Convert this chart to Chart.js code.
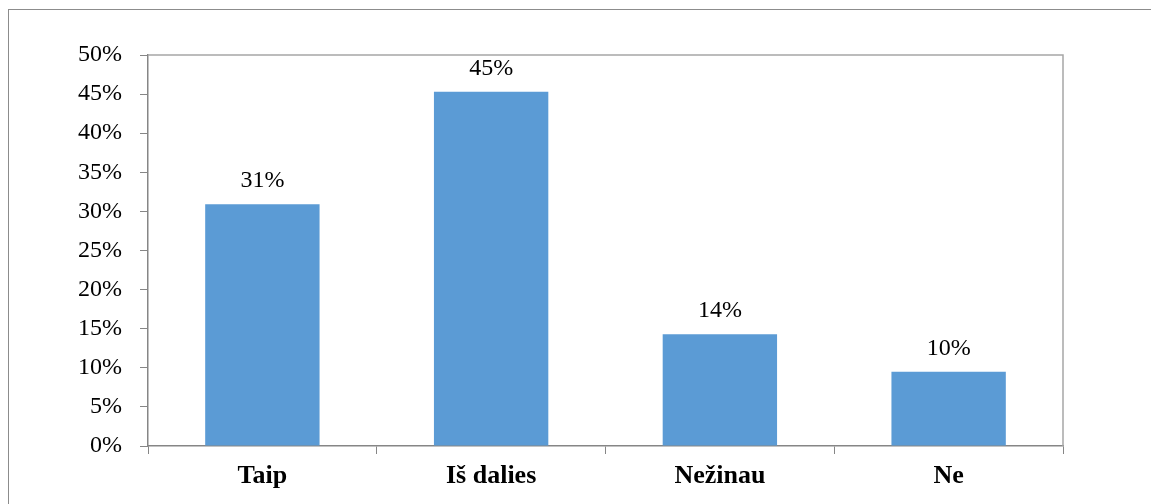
<!DOCTYPE html>
<html>
<head>
<meta charset="utf-8">
<script src="https://cdn.jsdelivr.net/npm/chart.js@4/dist/chart.umd.min.js"></script>
<style>
    html, body { margin: 0; padding: 0; background: #fff; }
    #wrap { position: relative; width: 1151px; height: 504px; overflow: hidden; }
    #frame { position: absolute; left: 8px; top: 9px; width: 1200px; height: 600px; border: 1px solid #8c8c8c; }
    canvas { position: absolute; left: 0; top: 0; }
</style>
</head>
<body>
<div id="wrap">
    <div id="frame"></div>
    <canvas id="barChart" width="1151" height="504"></canvas>
</div>
<script>
const categories = ["Taip", "Iš dalies", "Nežinau", "Ne"];
const values = [30.9, 45.3, 14.3, 9.5];
const valueLabels = ["31%", "45%", "14%", "10%"];
const yTicks = [0, 5, 10, 15, 20, 25, 30, 35, 40, 45, 50];

const fontFamily = "'Liberation Serif', 'Times New Roman', serif";

// top/right border of the plot area plus the value labels
const extras = {
    id: "extras",
    afterDraw(chart) {
        const ctx = chart.ctx;
        const a = chart.chartArea;
        ctx.save();
        ctx.strokeStyle = "#a6a6a6";
        ctx.lineWidth = 1.5;
        ctx.beginPath();
        ctx.moveTo(a.left, a.top);
        ctx.lineTo(a.right, a.top);
        ctx.lineTo(a.right, a.bottom);
        ctx.stroke();

        ctx.fillStyle = "#000";
        ctx.font = "24px " + fontFamily;
        ctx.textAlign = "center";
        ctx.textBaseline = "alphabetic";
        chart.getDatasetMeta(0).data.forEach((bar, i) => {
            ctx.fillText(valueLabels[i], bar.x, bar.y - 17);
        });
        ctx.restore();
    }
};

new Chart(document.getElementById("barChart"), {
    type: "bar",
    data: {
        labels: categories,
        datasets: [{
            data: values,
            backgroundColor: "#5b9bd5",
            categoryPercentage: 1,
            barPercentage: 0.5
        }]
    },
    options: {
        responsive: false,
        animation: false,
        layout: { padding: { top: 55, right: 88, left: 0, bottom: 0 } },
        plugins: {
            legend: { display: false },
            tooltip: { enabled: false }
        },
        scales: {
            x: {
                afterFit(scale) { scale.height = 58; },
                border: { color: "#868686", width: 1.5 },
                grid: { offset: true, drawOnChartArea: false, drawTicks: true, tickLength: 8, color: "#868686" },
                ticks: {
                    color: "#000",
                    padding: 7,
                    font: { family: fontFamily, size: 26, weight: "bold" }
                }
            },
            y: {
                min: 0,
                max: 50,
                afterFit(scale) { scale.width = 148; },
                afterBuildTicks(scale) { scale.ticks = yTicks.map(v => ({ value: v })); },
                border: { color: "#868686", width: 1.5 },
                grid: { drawOnChartArea: false, drawTicks: true, tickLength: 8, color: "#868686" },
                ticks: {
                    color: "#000",
                    padding: 18,
                    font: { family: fontFamily, size: 24 },
                    callback: v => v + "%"
                }
            }
        }
    },
    plugins: [extras]
});
</script>
</body>
</html>
